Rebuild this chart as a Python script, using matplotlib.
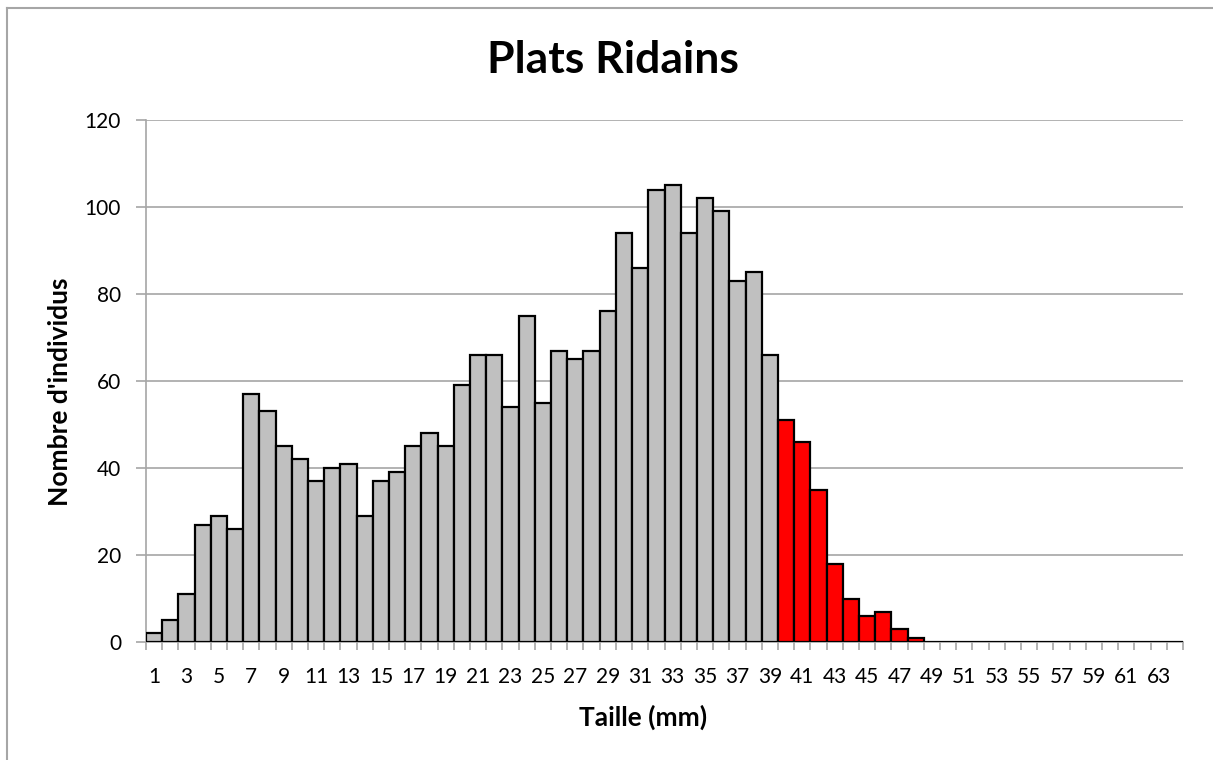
import matplotlib

matplotlib.use("Agg")
import matplotlib.pyplot as plt
import numpy as np
from matplotlib.lines import Line2D

plt.rcParams["font.family"] = ["Lato", "DejaVu Sans"]

# Size classes (mm) and counts
tailles = list(range(1, 65))
effectifs = [
    2, 5, 11, 27, 29, 26, 57, 53, 45, 42,
    37, 40, 41, 29, 37, 39, 45, 48, 45, 59,
    66, 66, 54, 75, 55, 67, 65, 67, 76, 94,
    86, 104, 105, 94, 102, 99, 83, 85, 66, 51,
    46, 35, 18, 10, 6, 7, 3, 1, 0, 0,
    0, 0, 0, 0, 0, 0, 0, 0, 0, 0,
    0, 0, 0, 0,
]
seuil = 40  # first size drawn in red
titre = "Plats Ridains"
xlabel = "Taille (mm)"
ylabel = "Nombre d'individus"

W, H = 1213, 760
fig = plt.figure(figsize=(W / 100, H / 100), dpi=100)
ax = fig.add_axes([146 / W, 1 - 642 / H, (1183 - 146) / W, (642 - 120) / H])

x = np.array(tailles)
y = np.array(effectifs)
colors = ["#FF0000" if t >= seuil else "#C0C0C0" for t in tailles]
ax.bar(x, y, width=1.0, color=colors, edgecolor="black", linewidth=1.6, zorder=3)

ax.set_xlim(0.5, len(tailles) + 0.5)
ax.set_ylim(0, 120)
ax.set_yticks(range(0, 121, 20))
ax.yaxis.grid(True, color="#A6A6A6", linewidth=1.2, zorder=0)

ax.set_xticks(x[::2])
ax.set_xticklabels([str(t) for t in x[::2]])
ax.set_xticks(np.arange(0.5, len(tailles) + 1, 1.0), minor=True)
ax.tick_params(axis="x", which="major", length=0, pad=18, labelsize=15)
ax.tick_params(axis="x", which="minor", length=6, color="#A6A6A6", width=1.2)
ax.tick_params(axis="y", length=7, color="#A6A6A6", width=1.2, labelsize=15, pad=11)

for side in ("top", "right"):
    ax.spines[side].set_visible(False)
for side in ("left", "bottom"):
    ax.spines[side].set_color("#A6A6A6")
    ax.spines[side].set_linewidth(1.2)

fig.text(643 / W, 1 - 717 / H, xlabel, ha="center", va="center",
         fontsize=19, fontweight="bold")
fig.text(60 / W, 1 - 392 / H, ylabel, ha="center", va="center", rotation=90,
         fontsize=19, fontweight="bold")
fig.text(613 / W, 1 - 60 / H, titre, ha="center", va="center",
         fontsize=32, fontweight="bold")

# chart frame (only top and left edges fall inside the image)
fig.add_artist(Line2D([6.5 / W, 6.5 / W], [0, 1 - 8 / H], color="#A6A6A6", lw=1.5,
                      transform=fig.transFigure))
fig.add_artist(Line2D([6.5 / W, 1], [1 - 8 / H, 1 - 8 / H], color="#A6A6A6", lw=1.5,
                      transform=fig.transFigure))

fig.savefig("out.png", dpi=100)
